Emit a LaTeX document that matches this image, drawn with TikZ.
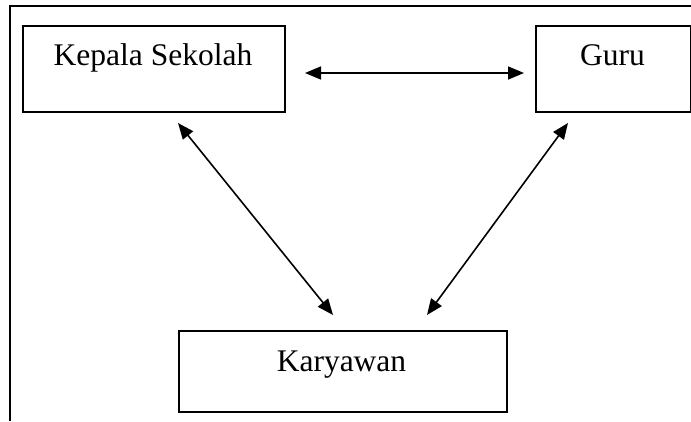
\documentclass[tikz,border=0pt]{standalone}
\usepackage{fontspec}
\setmainfont{Liberation Serif}
\usetikzlibrary{arrows.meta}
\begin{document}
\begin{tikzpicture}[x=1pt,y=-1pt,
  box/.style={draw=black,line width=1.8pt,rectangle,inner sep=0pt,anchor=north west},
  lbl/.style={anchor=base,inner sep=0pt,font=\fontsize{31.5}{36}\selectfont},
  link/.style={line width=1.6pt,{Triangle[length=16pt,width=13pt]}-{Triangle[length=16pt,width=13pt]}}]
\useasboundingbox (0,0) rectangle (691,421);
\draw[line width=1.8pt] (10,421) -- (10,6) -- (695,6);
\node[box,minimum width=262pt,minimum height=86pt] (ks) at (22,25) {};
\node[box,minimum width=155pt,minimum height=86pt] (gr) at (535,25) {};
\node[box,minimum width=328pt,minimum height=81pt] (kw) at (178,330) {};
\node[lbl] (tks) at (153,65) {Kepala Sekolah};
\node[lbl] (tgr) at (612.5,65) {Guru};
\node[lbl] (tkw) at (341.5,371) {Karyawan};
\coordinate (a1) at (305,73);
\coordinate (a2) at (524,73);
\coordinate (b1) at (178,123);
\coordinate (b2) at (333,315);
\coordinate (c1) at (568,123);
\coordinate (c2) at (427,315);
\draw[link] (a1) -- (a2);
\draw[link] (b1) -- (b2);
\draw[link] (c1) -- (c2);
\end{tikzpicture}
\end{document}
